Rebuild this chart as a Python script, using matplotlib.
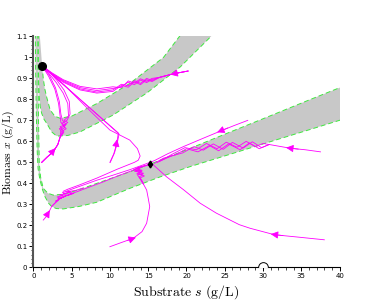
import matplotlib
matplotlib.use('Agg')
import matplotlib.pyplot as plt
from matplotlib.ticker import MultipleLocator, AutoMinorLocator

plt.rcParams['mathtext.fontset'] = 'cm'
plt.rcParams['font.family'] = ['DejaVu Sans']

MAG = '#ff00ff'
GREEN = '#3fe83f'
GRAY = '#c8c8c8'

# band edges (substrate s, biomass x)
lo_outer_s = [0.26, 0.30, 0.36, 0.44, 0.50, 0.62, 0.87, 1.2, 1.53, 2.0, 2.4, 3.0, 3.9, 6.0, 8.3, 12.6, 16.5, 20.5, 26, 31, 36, 40.5]
lo_outer_x = [1.15, 0.95, 0.80, 0.65, 0.56, 0.47, 0.416, 0.37, 0.336, 0.305, 0.289, 0.28, 0.278, 0.29, 0.31, 0.376, 0.43, 0.48, 0.542, 0.599, 0.655, 0.706]
lo_inner_s = [0.60, 0.63, 0.68, 0.78, 0.95, 1.3, 1.9, 2.6, 3.9, 6.0, 8.3, 12.6, 15.3, 20.5, 25, 30.9, 36, 40.5]
lo_inner_x = [1.15, 0.90, 0.70, 0.495, 0.43, 0.376, 0.353, 0.344, 0.348, 0.37, 0.40, 0.455, 0.492, 0.567, 0.634, 0.721, 0.797, 0.863]
up_outer_s = [0.62, 0.65, 0.70, 0.78, 0.9, 1.1, 1.4, 1.75, 2.4, 3.05, 4.5, 6.1, 10.4, 14.8, 19.2, 23.2, 24.0]
up_outer_x = [1.15, 0.97, 0.88, 0.81, 0.765, 0.733, 0.705, 0.686, 0.645, 0.625, 0.628, 0.645, 0.725, 0.83, 0.955, 1.10, 1.13]
up_inner_s = [0.75, 1.15, 1.3, 1.5, 1.75, 2.2, 2.8, 3.5, 5.0, 8.3, 12.6, 17.0, 19.5]
up_inner_x = [1.15, 0.96, 0.90, 0.85, 0.81, 0.75, 0.72, 0.71, 0.72, 0.78, 0.876, 1.0, 1.12]

# trajectories
traj = [
    # upper bundle from the right into the node
    ([20.2, 18.3, 16.5, 15.5, 14.8, 14.0, 13.2, 12.4, 11.5, 10.4, 8.3, 6.1, 3.9, 2.5, 1.6, 1.15],
     [0.935, 0.922, 0.905, 0.895, 0.88, 0.892, 0.87, 0.882, 0.86, 0.852, 0.842, 0.856, 0.89, 0.922, 0.946, 0.96]),
    ([20.2, 18.3, 16.5, 15.5, 14.8, 14.0, 13.2, 12.4, 11.5, 10.4, 8.3, 6.1, 3.9, 2.5, 1.6, 1.15],
     [0.935, 0.922, 0.905, 0.89, 0.9, 0.876, 0.89, 0.865, 0.872, 0.845, 0.835, 0.85, 0.886, 0.92, 0.945, 0.96]),
    ([20.2, 18.3, 16.5, 15.5, 14.8, 14.0, 13.2, 12.4, 11.5, 10.4, 8.3, 6.1, 3.9, 2.5, 1.6, 1.15],
     [0.935, 0.922, 0.905, 0.9, 0.886, 0.898, 0.878, 0.888, 0.855, 0.86, 0.85, 0.862, 0.894, 0.925, 0.948, 0.96]),
    ([20.2, 18.3, 16.5, 15.5, 14.8, 14.0, 13.2, 12.4, 11.5, 10.4, 8.3, 6.1, 3.9, 2.5, 1.6, 1.15],
     [0.935, 0.922, 0.905, 0.885, 0.894, 0.87, 0.884, 0.858, 0.866, 0.838, 0.83, 0.845, 0.882, 0.918, 0.944, 0.96]),
    # loop from lower left up into the node
    ([1.1, 1.8, 2.6, 3.2, 3.5, 3.8, 4.3, 3.9, 4.5, 4.0, 4.6, 4.5, 3.9, 3.0, 2.0, 1.15],
     [0.50, 0.525, 0.55, 0.585, 0.62, 0.65, 0.66, 0.675, 0.69, 0.70, 0.72, 0.78, 0.83, 0.88, 0.925, 0.96]),
    ([1.1, 1.8, 2.6, 3.2, 3.5, 3.6, 4.1, 3.7, 4.4, 4.8, 4.7, 4.0, 3.1, 2.1, 1.15],
     [0.50, 0.525, 0.55, 0.585, 0.62, 0.655, 0.665, 0.685, 0.70, 0.73, 0.79, 0.845, 0.89, 0.93, 0.96]),
    ([1.1, 1.8, 2.6, 3.2, 3.5, 3.9, 3.4, 4.2, 3.6, 3.5, 3.3, 2.8, 2.0, 1.15],
     [0.50, 0.525, 0.55, 0.585, 0.62, 0.64, 0.66, 0.675, 0.69, 0.72, 0.78, 0.85, 0.91, 0.96]),
    ([1.1, 1.8, 2.6, 3.2, 3.5, 4.0, 3.5, 4.3, 3.8, 3.6, 3.4, 2.9, 2.1, 1.15],
     [0.50, 0.525, 0.55, 0.585, 0.62, 0.645, 0.67, 0.68, 0.70, 0.73, 0.79, 0.855, 0.915, 0.96]),
    # from (10, 0.5) up and across to the node
    ([10.0, 10.5, 10.9, 11.1, 1.15], [0.50, 0.54, 0.59, 0.64, 0.96]),
    ([10.05, 10.6, 10.95, 11.2, 1.15], [0.50, 0.545, 0.59, 0.635, 0.96]),
    # node side down to the saddle region, then back along the lower band
    ([1.15, 4.0, 7.0, 10.0, 12.6, 13.6, 13.95, 13.7, 13.2, 11.0, 8.3, 6.0, 4.5, 3.9],
     [0.96, 0.87, 0.76, 0.654, 0.606, 0.565, 0.53, 0.51, 0.50, 0.468, 0.425, 0.392, 0.372, 0.362]),
    # from the upper right down past the saddle
    ([28.0, 26.2, 24.5, 22.0, 19.6, 17.5, 15.8, 14.5, 12.6, 10.5, 8.3, 6.0, 4.5, 3.8],
     [0.70, 0.675, 0.65, 0.612, 0.575, 0.54, 0.508, 0.49, 0.465, 0.44, 0.415, 0.385, 0.365, 0.355]),
    # lower left start into the band
    ([1.3, 1.65, 2.0, 2.4, 2.8, 3.3, 2.9, 3.7, 3.2, 4.2, 3.6, 4.7, 4.1, 5.3, 4.6, 5.7, 7.0, 9.0, 11.0, 13.0, 14.5],
     [0.225, 0.24, 0.26, 0.29, 0.305, 0.32, 0.315, 0.33, 0.325, 0.338, 0.332, 0.345, 0.34, 0.352, 0.347, 0.36, 0.378, 0.405, 0.435, 0.462, 0.482]),
    ([2.4, 3.0, 3.5, 3.1, 3.9, 3.4, 4.4, 3.9, 5.0, 4.3, 5.5, 6.5],
     [0.29, 0.312, 0.33, 0.335, 0.342, 0.345, 0.35, 0.352, 0.358, 0.36, 0.366, 0.378]),
    # bottom start, up into the lower band
    ([10.0, 11.5, 13.05, 14.2, 14.8, 15.2, 15.0, 14.8, 14.4, 14.15, 13.8, 14.3, 13.5, 14.1, 13.3, 13.9, 13.6, 14.6, 15.3],
     [0.098, 0.118, 0.138, 0.17, 0.21, 0.289, 0.33, 0.368, 0.395, 0.416, 0.43, 0.44, 0.445, 0.455, 0.46, 0.468, 0.475, 0.485, 0.49]),
    ([14.4, 14.0, 13.6, 14.4, 13.2, 14.2, 13.4, 14.0, 15.3],
     [0.395, 0.42, 0.44, 0.448, 0.458, 0.462, 0.47, 0.478, 0.49]),
    ([14.3, 13.9, 14.5, 13.7, 14.2, 13.1, 13.8, 15.3],
     [0.40, 0.425, 0.435, 0.45, 0.458, 0.466, 0.476, 0.49]),
    # lower right start, left to the saddle
    ([38.0, 34.8, 31.5, 28.3, 26.9, 23.9, 21.8, 19.6, 17.4, 15.7, 15.3],
     [0.131, 0.143, 0.155, 0.186, 0.203, 0.258, 0.305, 0.37, 0.431, 0.487, 0.49]),
    # right start, oscillating inside the lower band
    ([37.5, 35.5, 33.6, 30.8, 29.5, 28.2, 27.0, 25.5, 24.2, 23.0, 21.5, 20.0, 18.5, 17.0, 15.8],
     [0.55, 0.56, 0.567, 0.585, 0.565, 0.592, 0.56, 0.588, 0.555, 0.58, 0.55, 0.565, 0.535, 0.52, 0.495]),
    ([30.8, 29.8, 28.6, 27.4, 26.0, 24.8, 23.5, 22.2, 21.0, 19.5, 18.0, 16.2],
     [0.585, 0.57, 0.598, 0.568, 0.595, 0.562, 0.588, 0.558, 0.575, 0.545, 0.53, 0.50]),
    ([30.8, 30.0, 29.0, 27.8, 26.6, 25.2, 24.0, 22.6, 21.3, 19.8, 18.2, 16.5],
     [0.585, 0.59, 0.575, 0.6, 0.572, 0.596, 0.565, 0.59, 0.56, 0.57, 0.54, 0.505]),
]

# arrow heads: (tail, tip) along the trajectories
arrow_tail = [(19.0, 0.927), (2.2, 0.538), (10.75, 0.57), (25.4, 0.664), (1.75, 0.247),
              (12.3, 0.128), (32.6, 0.151), (34.6, 0.563)]
arrow_tip = [(17.9, 0.918), (2.9, 0.568), (10.95, 0.61), (24.0, 0.643), (2.15, 0.272),
             (13.4, 0.142), (31.0, 0.158), (33.0, 0.57)]

node = (1.15, 0.96)
saddle = (15.3, 0.49)
washout = (30.0, 0.0)

fig = plt.figure(figsize=(3.66, 3.06), dpi=100)
ax = fig.add_axes([0.091, 0.1265, 0.837, 0.7545])

ax.fill(lo_outer_s + lo_inner_s[::-1], lo_outer_x + lo_inner_x[::-1], color=GRAY, lw=0, zorder=1)
ax.fill(up_outer_s + up_inner_s[::-1], up_outer_x + up_inner_x[::-1], color=GRAY, lw=0, zorder=1)
for s, x in [(lo_outer_s, lo_outer_x), (lo_inner_s, lo_inner_x), (up_outer_s, up_outer_x), (up_inner_s[1:], up_inner_x[1:])]:
    ax.plot(s, x, '--', color=GREEN, lw=0.7, dashes=(5, 3), zorder=2)

for s, x in traj:
    ax.plot(s, x, '-', color=MAG, lw=0.6, zorder=3)

for t, h in zip(arrow_tail, arrow_tip):
    ax.annotate('', xy=h, xytext=t,
                arrowprops=dict(arrowstyle='-|>', color=MAG, lw=0.6, mutation_scale=11,
                                shrinkA=0, shrinkB=0), zorder=4)

ax.plot(*node, 'o', color='black', ms=5.5, zorder=5)
ax.plot(*saddle, 'd', color='black', ms=3.5, zorder=5)
ax.plot(*washout, 'o', mfc='white', mec='black', mew=0.7, ms=7, zorder=5)

ax.set_xlim(0, 40)
ax.set_ylim(0, 1.1)
ax.xaxis.set_major_locator(MultipleLocator(5))
ax.xaxis.set_minor_locator(AutoMinorLocator(5))
ax.yaxis.set_minor_locator(AutoMinorLocator(5))
ax.set_yticks([0, 0.1, 0.2, 0.3, 0.4, 0.5, 0.6, 0.7, 0.8, 0.9, 1.0, 1.1])
ax.set_yticklabels(['0', '0.1', '0.2', '0.3', '0.4', '0.5', '0.6', '0.7', '0.8', '0.9', '1', '1.1'])

for side in ('top', 'right'):
    ax.spines[side].set_visible(False)
ax.spines['left'].set_color('#555555')
ax.spines['left'].set_linewidth(1.5)
ax.spines['bottom'].set_linewidth(0.8)
ax.tick_params(which='major', direction='out', length=3, width=0.7, labelsize=5, pad=1.2)
ax.tick_params(which='minor', direction='out', length=1.8, width=0.5)

ax.set_xlabel(r'$\mathrm{Substrate}\ s\ \mathrm{(g/L)}$', fontsize=10, labelpad=3)
ax.set_ylabel(r'$\mathrm{Biomass}\ x\ \mathrm{(g/L)}$', fontsize=8.5)
ax.yaxis.set_label_coords(-0.056, 0.5)

fig.savefig('out.png', dpi=100)
